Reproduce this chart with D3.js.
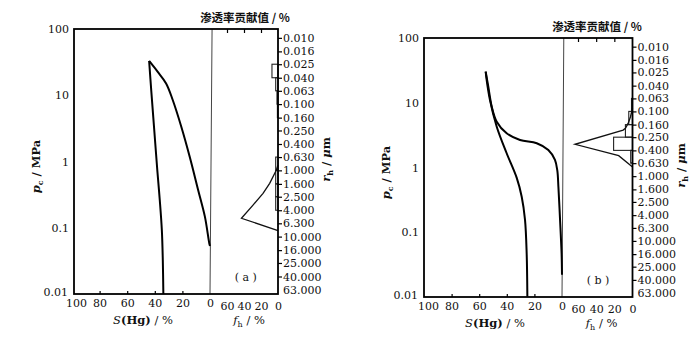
<!DOCTYPE html>
<html><head><meta charset="utf-8">
<script src="https://cdn.jsdelivr.net/npm/d3@7/dist/d3.min.js"></script>
<style>body{margin:0;background:#fff}svg{display:block}</style>
</head><body><svg id="c" width="700" height="356"></svg>
<script>
// ---------- shared axis data ----------
const pTickValues = [100, 10, 1, 0.1, 0.01];
const pTickLabels = ["100", "10", "1", "0.1", "0.01"];
const rTickValues = [0.010, 0.016, 0.025, 0.040, 0.063, 0.100, 0.160, 0.250, 0.400, 0.630,
                     1.000, 1.600, 2.500, 4.000, 6.300, 10.000, 16.000, 25.000, 40.000, 63.000];
const rTickLabels = ["0.010", "0.016", "0.025", "0.040", "0.063", "0.100", "0.160", "0.250", "0.400", "0.630",
                     "1.000", "1.600", "2.500", "4.000", "6.300", "10.000", "16.000", "25.000", "40.000", "63.000"];
const sTickValues = [100, 80, 60, 40, 20, 0];
const fTickValues = [60, 40, 20, 0];
const fTopTickValues = [60, 40, 20];
const topTitle = "渗透率贡献值 / %";

// ---------- panel (a) data ----------
const aInjS = [0, 0.5, 3.7, 8.6, 14.7, 20.8, 27.0, 31.8, 38.0, 44.1];
const aInjP = [0.053, 0.058, 0.147, 0.372, 1.18, 3.35, 8.48, 15.1, 22.7, 32.9];
const aWdrS = [44.1, 42.6, 40.4, 38.2, 36.4, 34.9, 34.2, 33.8];
const aWdrP = [32.9, 12.0, 2.99, 0.745, 0.262, 0.0925, 0.0326, 0.01];
const aFhR = [0.83, 0.99, 1.57, 2.22, 3.34, 5.29, 8.09];
const aFhF = [0, 1.9, 9.8, 17.6, 29.4, 43.0, 0];
const aBinLo = [0.025, 0.040, 0.063, 0.100, 0.630, 1.000, 1.600, 2.500];
const aBinHi = [0.040, 0.063, 0.100, 0.160, 1.000, 1.600, 2.500, 4.000];
const aBinVal = [7.1, 2.7, 1.2, 0.7, 2.7, 2.7, 2.7, 2.7];

// ---------- panel (b) data ----------
const bInjS = [0, 0.3, 1.4, 2.6, 3.4, 5.1, 9.9, 18.3, 30.4, 40.1, 47.3, 50.9, 53.4, 55.3];
const bInjP = [0.022, 0.047, 0.155, 0.50, 0.90, 1.31, 1.86, 2.37, 2.66, 3.37, 5.1, 8.7, 17.7, 30.2];
const bWdrS = [55.3, 54.6, 52.2, 47.3, 40.1, 32.8, 29.2, 26.8, 25.6, 25.1];
const bWdrP = [30.2, 22.5, 11.0, 4.27, 1.66, 0.69, 0.354, 0.155, 0.047, 0.0101];
const bFhR = [0.0886, 0.121, 0.153, 0.182, 0.194, 0.322, 0.483, 0.714];
const bFhF = [0, 2.2, 4.8, 7.8, 10.3, 63.3, 15.2, 0.3];
const bBinLo = [0.063, 0.100, 0.160, 0.250, 0.400];
const bBinHi = [0.100, 0.160, 0.250, 0.400, 0.630];
const bBinVal = [1.1, 4.1, 7.8, 20.8, 2.0];

const svg = d3.select("#c");
const NUM_FONT = "'DejaVu Serif', 'Liberation Serif', serif";
const CJK_FONT = "'Noto Sans CJK SC', sans-serif";

function drawPanel(cfg, d) {
  const g = svg.append("g");
  const {left, right, top, bottom} = cfg;
  const y = d3.scaleLog().domain([100, 0.01]).range([top, bottom]);
  const r = d3.scaleLog().domain([0.735 / 100, 0.735 / 0.01]).range([top, bottom]);
  const x = d3.scaleLinear().domain([100, 0]).range([cfg.sLeft, cfg.sZero]);
  const f = d3.scaleLinear().domain([0, 60]).range([right, cfg.f60]);

  // divider (S = 0 line)
  g.append("line")
    .attr("x1", x(cfg.divTopS)).attr("y1", top)
    .attr("x2", x(0)).attr("y2", bottom)
    .attr("stroke", "#444").attr("stroke-width", 1);

  // histogram bars
  const bins = d.binLo.map((lo, i) => ({lo, hi: d.binHi[i], v: d.binVal[i]}));
  g.selectAll("rect.bin").data(bins).join("rect")
    .attr("class", "bin")
    .attr("x", b => f(b.v)).attr("y", b => r(b.lo))
    .attr("width", b => f(0) - f(b.v)).attr("height", b => r(b.hi) - r(b.lo))
    .attr("fill", "none").attr("stroke", "#222").attr("stroke-width", 1.1);

  // f_h curve
  const fh = d.fhR.map((rv, i) => [f(d.fhF[i]), r(rv)]);
  g.append("path").attr("d", d3.line()(fh))
    .attr("fill", "none").attr("stroke", "#111").attr("stroke-width", 1.3)
    .attr("stroke-linejoin", "miter");

  // capillary pressure curves
  const line = d3.line().curve(d3.curveCatmullRom.alpha(0.5));
  const inj = d.injS.map((s, i) => [x(s), y(d.injP[i])]);
  const wdr = d.wdrS.map((s, i) => [x(s), y(d.wdrP[i])]);
  [inj, wdr].forEach(pts => g.append("path").attr("d", line(pts))
    .attr("fill", "none").attr("stroke", "#000").attr("stroke-width", 2));

  // frame
  g.append("rect").attr("x", left).attr("y", top)
    .attr("width", right - left).attr("height", bottom - top)
    .attr("fill", "none").attr("stroke", "#000").attr("stroke-width", 1.8);

  const styleAxis = (ax, size) => {
    ax.select(".domain").remove();
    ax.selectAll("text").attr("font-family", NUM_FONT).attr("font-size", size).attr("fill", "#111");
    ax.selectAll("line").attr("stroke", "#000").attr("stroke-width", 1.2);
  };

  // left axis
  const la = g.append("g").attr("transform", `translate(${left},0)`)
    .call(d3.axisLeft(y).tickValues(pTickValues).tickFormat((v, i) => pTickLabels[i]).tickSize(0).tickPadding(5));
  styleAxis(la, 11);
  la.selectAll(".tick").filter(v => v === 0.01).select("text").attr("dy", "0.1em").attr("dx", -1);

  // right axis (r_h)
  const ra = g.append("g").attr("transform", `translate(${right},0)`)
    .call(d3.axisRight(r).tickValues(rTickValues).tickFormat((v, i) => rTickLabels[i]).tickSize(4).tickPadding(1));
  styleAxis(ra, 11);
  ra.selectAll(".tick").filter((v, i) => i === rTickValues.length - 1).select("line").remove();

  // bottom S axis
  const ba = g.append("g").attr("transform", `translate(0,${bottom})`)
    .call(d3.axisBottom(x).tickValues(sTickValues).tickFormat(d3.format("d")).tickSize(-3).tickPadding(5));
  styleAxis(ba, 11);
  ba.selectAll(".tick").filter(v => v === 100 || v === 0).select("line").remove();
  ba.selectAll(".tick").filter(v => v === 100).select("text").attr("dx", 4);

  // bottom f_h axis
  const fa = g.append("g").attr("transform", `translate(0,${bottom})`)
    .call(d3.axisBottom(f).tickValues(fTickValues).tickFormat(d3.format("d")).tickSize(0).tickPadding(8));
  styleAxis(fa, 11);

  // top contribution ticks
  const ta = g.append("g").attr("transform", `translate(0,${top})`)
    .call(d3.axisTop(f).tickValues(fTopTickValues).tickFormat("").tickSize(-4));
  styleAxis(ta, 11);

  // titles
  g.append("text").attr("x", cfg.titleX).attr("y", top - 7).attr("text-anchor", "middle")
    .attr("font-family", CJK_FONT).attr("font-weight", "bold").attr("font-size", 11.5)
    .attr("fill", "#111").text(topTitle);

  // left label p_c / MPa
  const lt = g.append("text")
    .attr("transform", `translate(${left - 34},${(top + bottom) / 2 + 5}) rotate(-90)`)
    .attr("text-anchor", "middle").attr("font-family", NUM_FONT).attr("font-size", 11.5)
    .attr("font-weight", "bold").attr("fill", "#111");
  lt.append("tspan").attr("font-style", "italic").text("p");
  lt.append("tspan").attr("font-size", 8).attr("dy", 3).text("c");
  lt.append("tspan").attr("dy", -3).text(" / MPa");

  // right label r_h / μm
  const rt = g.append("text")
    .attr("transform", `translate(${right + 52},${(top + bottom) / 2 - 2}) rotate(-90)`)
    .attr("text-anchor", "middle").attr("font-family", NUM_FONT).attr("font-size", 11.5)
    .attr("font-weight", "bold").attr("fill", "#111");
  rt.append("tspan").attr("font-style", "italic").text("r");
  rt.append("tspan").attr("font-size", 8).attr("dy", 3).text("h");
  rt.append("tspan").attr("dy", -3).text(" / ");
  rt.append("tspan").attr("font-style", "italic").text("μ");
  rt.append("tspan").text("m");

  // bottom titles
  const st = g.append("text").attr("x", x(50) + 2).attr("y", bottom + 30)
    .attr("text-anchor", "middle").attr("font-family", NUM_FONT).attr("font-size", 11.5)
    .attr("fill", "#111");
  st.append("tspan").attr("font-style", "italic").text("S");
  st.append("tspan").attr("font-weight", "bold").text("(Hg)");
  st.append("tspan").text(" / %");

  const ft = g.append("text").attr("x", f(34)).attr("y", bottom + 30)
    .attr("text-anchor", "middle").attr("font-family", NUM_FONT).attr("font-size", 11.5)
    .attr("fill", "#111");
  ft.append("tspan").attr("font-style", "italic").text("f");
  ft.append("tspan").attr("font-size", 8).attr("dy", 3).text("h");
  ft.append("tspan").attr("dy", -3).text(" / %");

  g.append("text").attr("x", f(38)).attr("y", bottom - 13)
    .attr("text-anchor", "middle").attr("font-family", NUM_FONT).attr("font-size", 11)
    .attr("fill", "#111").text(cfg.tag);
}

drawPanel({left: 74, right: 278, top: 29, bottom: 294, sLeft: 72, sZero: 210, f60: 227,
           divTopS: -1.5, titleX: 245, tag: "( a )"},
  {injS: aInjS, injP: aInjP, wdrS: aWdrS, wdrP: aWdrP, fhR: aFhR, fhF: aFhF,
   binLo: aBinLo, binHi: aBinHi, binVal: aBinVal});

drawPanel({left: 424, right: 632.5, top: 38, bottom: 297, sLeft: 424, sZero: 562, f60: 578,
           divTopS: -1.3, titleX: 597, tag: "( b )"},
  {injS: bInjS, injP: bInjP, wdrS: bWdrS, wdrP: bWdrP, fhR: bFhR, fhF: bFhF,
   binLo: bBinLo, binHi: bBinHi, binVal: bBinVal});
</script></body></html>
